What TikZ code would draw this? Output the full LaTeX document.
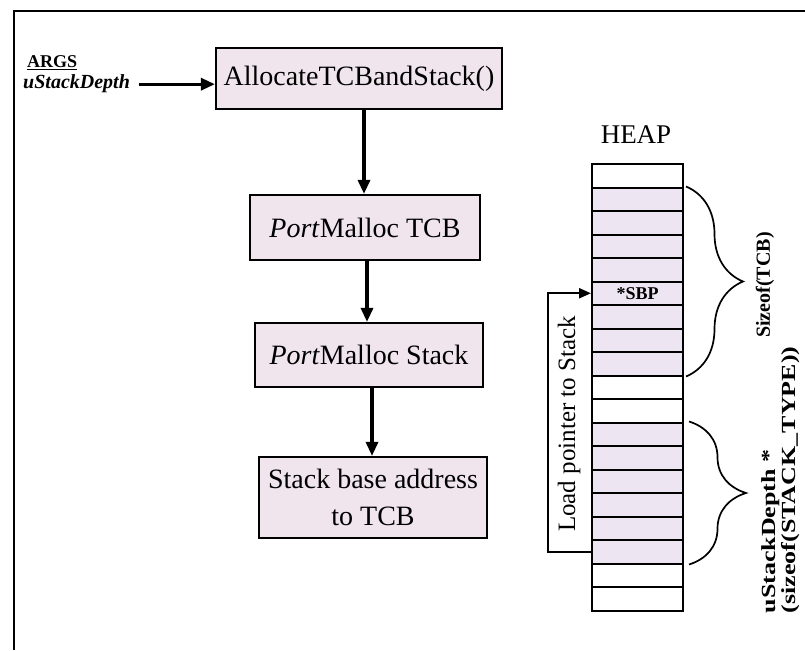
\documentclass[tikz,border=0pt]{standalone}
\usepackage{fontspec}
\setmainfont{Liberation Serif}
\usepackage{graphicx}
\usetikzlibrary{arrows.meta,decorations.pathreplacing}
\definecolor{boxfill}{RGB}{240,229,237}
\definecolor{cellfill}{RGB}{237,229,242}

\begin{document}
\begin{tikzpicture}[x=1pt,y=-1pt,
  stepbox/.style={draw=black, line width=2.2pt, fill=boxfill, inner sep=0pt,
    font=\fontsize{28}{37}\selectfont, align=center},
  flow/.style={line width=3.2pt, -{Triangle[length=14pt,width=12pt]}},
  pointer/.style={line width=2.2pt, -{Triangle[length=12pt,width=10pt]}},
  cell/.style={draw=black, line width=2pt, minimum width=91pt,
    minimum height=23.5pt, inner sep=0pt, anchor=north west},
  heapbrace/.style={decorate, decoration={brace, amplitude=57pt}, line width=1.7pt},
  sidelabel/.style={rotate=90, font=\bfseries\fontsize{20}{20}\selectfont, inner sep=0pt}
]
\useasboundingbox (0,0) rectangle (805,650);

% outer frame (top and left edges)
\draw[line width=2.5pt] (805,11) -- (14,11) -- (14,650);

% arguments
\node[anchor=base west, inner sep=0pt, font=\bfseries\fontsize{18}{18}\selectfont]
  (argsTitle) at (27,68) {\underline{ARGS}};
\node[anchor=base west, inner sep=0pt, font=\bfseries\itshape\fontsize{20}{20}\selectfont]
  (argsDepth) at (23,89) {uStackDepth};

% flow of the allocation
\node[stepbox, minimum width=286pt, minimum height=61pt] (alloc) at (359,78.5) {AllocateTCBandStack()};
\node[stepbox, minimum width=230pt, minimum height=65pt] (tcb) at (365,227.5) {\textit{Port}Malloc TCB};
\node[stepbox, minimum width=228pt, minimum height=64pt] (stk) at (369,355) {\textit{Port}Malloc Stack};
\node[stepbox, minimum width=228pt, minimum height=81pt] (base) at (373,497.5) {Stack base address\\to TCB};

\draw[flow] ([xshift=9pt]argsDepth.east) -- (alloc.west |- argsDepth.east);
\draw[flow] ([xshift=-1pt]tcb.north |- alloc.south) -- ([xshift=-1pt]tcb.north);
\draw[flow] ([xshift=-2pt]stk.north |- tcb.south) -- ([xshift=-2pt]stk.north);
\draw[flow] ([xshift=-1pt]base.north |- stk.south) -- ([xshift=-1pt]base.north);

% heap column
\node[inner sep=0pt, font=\fontsize{27}{27}\selectfont] (heapTitle) at (636,135) {HEAP};
\foreach \i/\f in {0/white,1/cellfill,2/cellfill,3/cellfill,4/cellfill,5/cellfill,
                   6/cellfill,7/cellfill,8/cellfill,9/white,10/white,11/cellfill,
                   12/cellfill,13/cellfill,14/cellfill,15/cellfill,16/cellfill,
                   17/white,18/white}
  \node[cell, fill=\f] (r\i) at (591,{163+23.5*\i}) {};
\node[inner sep=0pt, font=\bfseries\fontsize{18}{18}\selectfont] (sbp) at (r5.center) {*SBP};

% pointer from the stack base back to the TCB field
\coordinate (bend) at (548,0);
\draw[pointer] (r16.west) -- (r16.west -| bend) |- (r5.west);
\node[rotate=90, inner sep=0pt, font=\fontsize{25}{25}\selectfont] (loadLabel) at (569,424) {Load pointer to Stack};

% size braces
\draw[heapbrace] ([xshift=2pt]r1.north east) -- ([xshift=2pt]r8.south east);
\draw[heapbrace] ([xshift=5pt]r11.north east) -- ([xshift=5pt]r16.south east);
\node[sidelabel] (tcbSize) at (765,285) {Sizeof(TCB)};
\node[sidelabel, align=left] (stackSize) at (781,480)
  {\scalebox{1.3}[1]{uStackDepth *}\\\scalebox{1.3}[1]{(sizeof(STACK\_TYPE))}};
\end{tikzpicture}
\end{document}
